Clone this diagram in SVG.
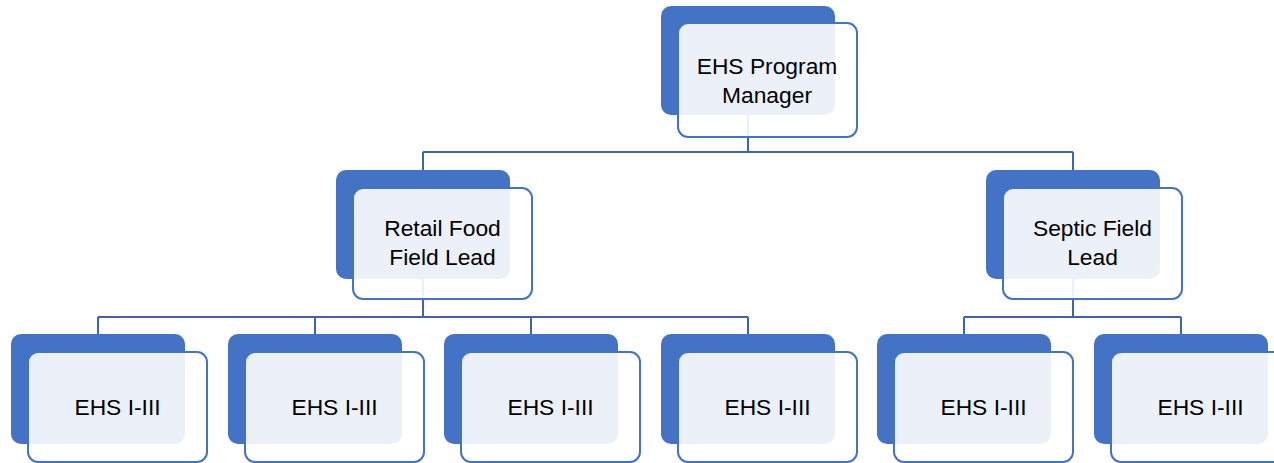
<svg xmlns="http://www.w3.org/2000/svg" width="1274" height="463" viewBox="0 0 1274 463">
<style>
.back{fill:#4472C4}
.front{fill:#FFFFFF;fill-opacity:0.9;stroke:#4472C4;stroke-width:2}
.conn{fill:none;stroke:#3F64AC;stroke-width:2}
text{font-family:"Liberation Sans",Arial,sans-serif;font-size:22.8px;fill:#000;text-anchor:middle}
</style>
<rect width="1274" height="463" fill="#FFFFFF"/>
<g id="connectors">
<path class="conn" d="M748,115 V152 M423,152 H1073 M423,152 V170 M1073,152 V170"/>
<path class="conn" d="M423,279 V317 M98,317 H748 M98,317 V334 M315,317 V334 M531,317 V334 M748,317 V334"/>
<path class="conn" d="M1073,279 V317 M964,317 H1181 M964,317 V334 M1181,317 V334"/>
</g>
<g id="manager">
<rect class="back" x="661" y="6" width="174" height="109" rx="10"/>
<rect class="front" x="678" y="23" width="179" height="114" rx="10"/>
<text x="767" y="74">EHS Program</text>
<text x="767" y="103">Manager</text>
</g>
<g id="retail">
<rect class="back" x="336" y="170" width="174" height="109" rx="10"/>
<rect class="front" x="353" y="188" width="179" height="111" rx="10"/>
<text x="442.5" y="236">Retail Food</text>
<text x="442.5" y="265">Field Lead</text>
</g>
<g id="septic">
<rect class="back" x="986" y="170" width="174" height="109" rx="10"/>
<rect class="front" x="1003" y="188" width="179" height="111" rx="10"/>
<text x="1092.5" y="236">Septic Field</text>
<text x="1092.5" y="265">Lead</text>
</g>
<g id="ehs1">
<rect class="back" x="11" y="334" width="174" height="110" rx="10"/>
<rect class="front" x="28" y="352" width="179" height="110" rx="10"/>
<text x="117.5" y="415">EHS I-III</text>
</g>
<g id="ehs2">
<rect class="back" x="228" y="334" width="174" height="110" rx="10"/>
<rect class="front" x="245" y="352" width="179" height="110" rx="10"/>
<text x="334.5" y="415">EHS I-III</text>
</g>
<g id="ehs3">
<rect class="back" x="444" y="334" width="174" height="110" rx="10"/>
<rect class="front" x="461" y="352" width="179" height="110" rx="10"/>
<text x="550.5" y="415">EHS I-III</text>
</g>
<g id="ehs4">
<rect class="back" x="661" y="334" width="174" height="110" rx="10"/>
<rect class="front" x="678" y="352" width="179" height="110" rx="10"/>
<text x="767.5" y="415">EHS I-III</text>
</g>
<g id="ehs5">
<rect class="back" x="877" y="334" width="174" height="110" rx="10"/>
<rect class="front" x="894" y="352" width="179" height="110" rx="10"/>
<text x="983.5" y="415">EHS I-III</text>
</g>
<g id="ehs6">
<rect class="back" x="1094" y="334" width="174" height="110" rx="10"/>
<rect class="front" x="1111" y="352" width="179" height="110" rx="10"/>
<text x="1200.5" y="415">EHS I-III</text>
</g>
</svg>
